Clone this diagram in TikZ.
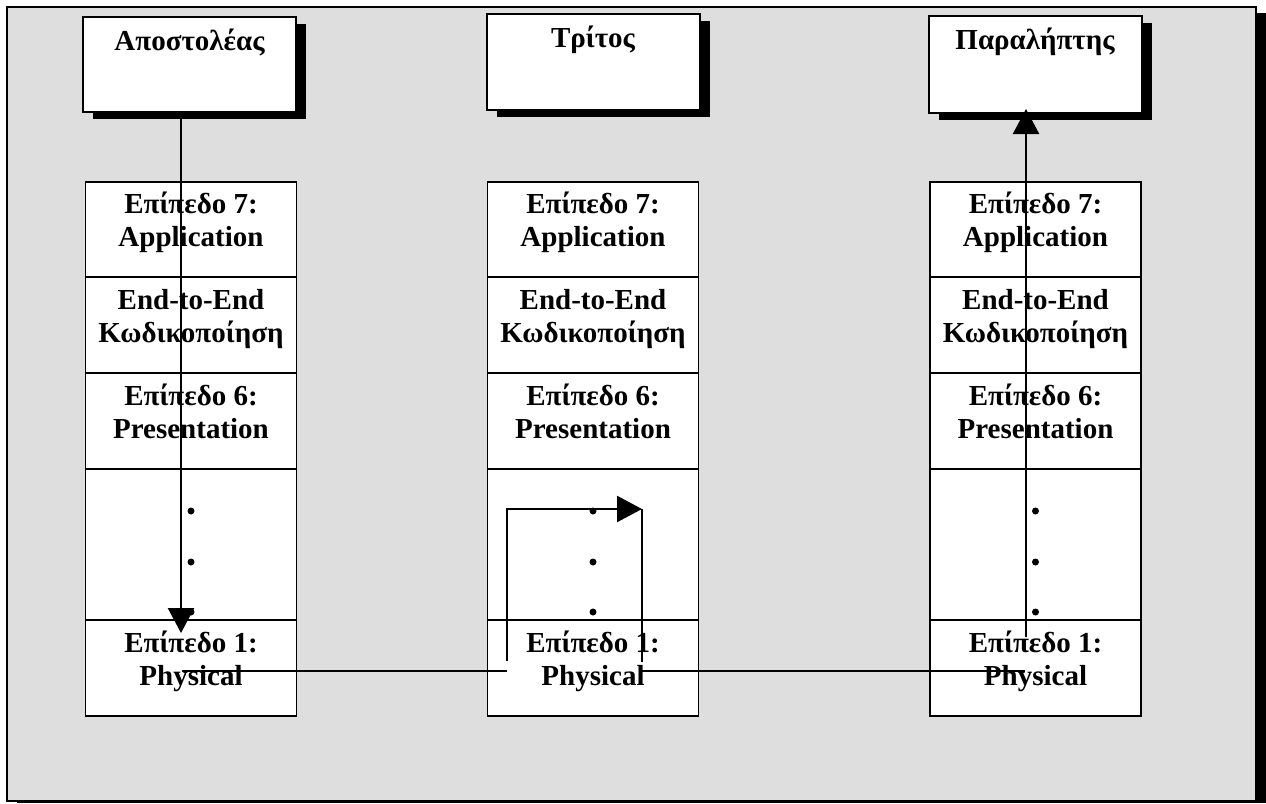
\documentclass[tikz,border=0pt]{standalone}
\usepackage{fontspec}
\setmainfont{Liberation Serif}
\usetikzlibrary{arrows.meta,shadows}
\definecolor{panelgray}{RGB}{222,222,222}
\begin{document}
\begin{tikzpicture}[x=1pt,y=-1pt,
  every node/.style={font=\fontsize{29}{33}\selectfont\bfseries},
  topbox/.style={draw, line width=2pt, fill=white, inner sep=0, minimum width=213pt,
    drop shadow={shadow xshift=10pt, shadow yshift=-7pt, fill=black, opacity=1}},
  cell/.style={draw, line width=1.8pt, fill=white, inner sep=0, minimum width=211pt},
  lbl/.style={inner sep=0, align=center, anchor=base},
  dot/.style={circle, fill, inner sep=0, minimum size=7pt},
  link/.style={line width=2.4pt},
  arr/.style={link, -{Triangle[width=26pt,length=25pt]}}
]
\useasboundingbox (0,0) rectangle (1266,803);
% background panel with its shadow
\fill (17,13) rectangle (1266,803);
\draw[fill=panelgray, line width=2pt] (7,7) rectangle (1256,801);

% end systems
\node[topbox, minimum height=95pt] (sender) at (189.5,64.5) {};
\node[lbl] (sendert) at (189.5,50) {Αποστολέας};
\node[topbox, minimum height=96pt] (third) at (593,62) {};
\node[lbl] (thirdt) at (593,47) {Τρίτος};
\node[topbox, minimum height=97pt] (receiver) at (1035,64.5) {};
\node[lbl] (receivert) at (1035,49) {Παραλήπτης};

% protocol stacks (a text node's base is the baseline of its last line)
\foreach \c/\x in {a/191,b/593,c/1035.5}{
  \node[cell, minimum height=95pt]  (\c7) at (\x,229.5) {};
  \node[cell, minimum height=96pt]  (\c e) at (\x,325) {};
  \node[cell, minimum height=96pt]  (\c6) at (\x,421) {};
  \node[cell, minimum height=151pt] (\c d) at (\x,544.5) {};
  \node[cell, minimum height=96pt]  (\c1) at (\x,668) {};
  \node[lbl] (\c7t) at (\x,246.5) {Επίπεδο 7:\\Application};
  \node[lbl] (\c et) at (\x,342) {End-to-End\\Κωδικοποίηση};
  \node[lbl] (\c6t) at (\x,438) {Επίπεδο 6:\\Presentation};
  \node[lbl] (\c1t) at (\x,685) {Επίπεδο 1:\\Physical};
  \node[dot] (\c dA) at (\x,511) {};
  \node[dot] (\c dB) at (\x,562) {};
  \node[dot] (\c dC) at (\x,612) {};
}

% path of the message
\coordinate (p1) at (181,633);
\draw[arr] (sender.south -| p1) -- (p1);
\coordinate (h1) at (182,671);
\coordinate (h2) at (507,671);
\draw[link] (h1) -- (h2);
\coordinate (m1) at (507,661);
\coordinate (m2) at (507,509);
\coordinate (m3) at (642,509);
\coordinate (m4) at (642,662);
\draw[arr] (m1) -- (m2) -- (m3);
\draw[link] (m3) -- (m4);
\coordinate (r1) at (642,671);
\coordinate (r2) at (1025,671);
\draw[link] (r1) -- (r2);
\coordinate (r3) at (1026,637);
\draw[arr, shorten >=-5pt] (r3) -- (receiver.south -| r3);
\end{tikzpicture}
\end{document}
